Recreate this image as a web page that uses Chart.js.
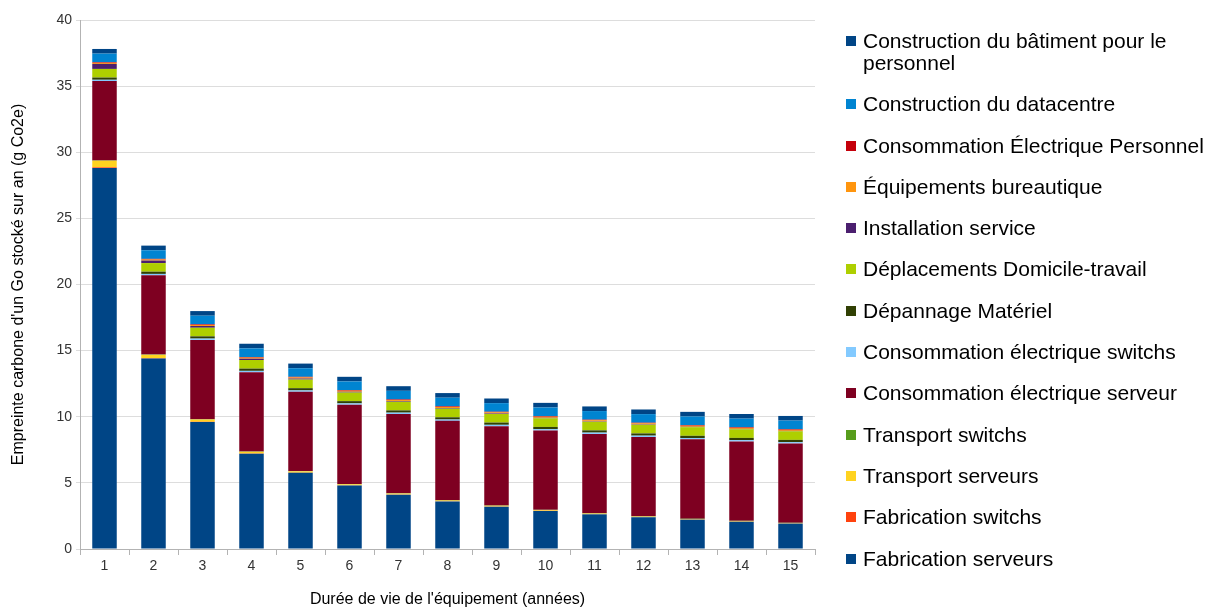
<!DOCTYPE html>
<html>
<head>
<meta charset="utf-8">
<style>
  html, body { margin: 0; padding: 0; background: #fff; }
  #wrap { position: relative; width: 1206px; height: 609px; font-family: "Liberation Sans", Arial, sans-serif; }
  #legend { position: absolute; left: 846px; top: 30px; width: 360px; font-size: 21px; line-height: 22px; color: #000; }
  .item { display: flex; align-items: flex-start; margin-bottom: 19.3px; }
  .box { width: 10px; height: 10px; margin-top: 6px; margin-right: 7px; flex: none; }
</style>
</head>
<body>
<div id="wrap">
  <canvas id="chart" width="1206" height="609"></canvas>
  <div id="legend"></div>
</div>

<script src="https://cdn.jsdelivr.net/npm/chart.js@4"></script>
<script>
// Données
const years = ['1', '2', '3', '4', '5', '6', '7', '8', '9', '10', '11', '12', '13', '14', '15'];

const fabServeurs      = [28.8, 14.4, 9.6, 7.2, 5.76, 4.8, 4.11, 3.6, 3.2, 2.88, 2.62, 2.4, 2.22, 2.06, 1.92];
const fabSwitchs       = [0.06, 0.03, 0.02, 0.02, 0.01, 0.01, 0.01, 0.01, 0.01, 0.01, 0.01, 0.01, 0.01, 0.01, 0.01];
const transServeurs    = [0.5, 0.25, 0.17, 0.13, 0.1, 0.08, 0.07, 0.06, 0.06, 0.05, 0.05, 0.04, 0.04, 0.04, 0.03];
const transSwitchs     = [0.02, 0.02, 0.02, 0.02, 0.02, 0.02, 0.02, 0.02, 0.02, 0.02, 0.02, 0.02, 0.02, 0.02, 0.02];
const consoServeur     = [6.0, 6.0, 6.0, 6.0, 6.0, 6.0, 6.0, 6.0, 6.0, 6.0, 6.0, 6.0, 6.0, 6.0, 6.0];
const consoSwitchs     = [0.1, 0.1, 0.1, 0.1, 0.1, 0.1, 0.1, 0.1, 0.1, 0.1, 0.1, 0.1, 0.1, 0.1, 0.1];
const depannage        = [0.17, 0.17, 0.17, 0.17, 0.17, 0.17, 0.17, 0.17, 0.17, 0.17, 0.17, 0.17, 0.17, 0.17, 0.17];
const deplacements     = [0.65, 0.65, 0.65, 0.65, 0.65, 0.65, 0.65, 0.65, 0.65, 0.65, 0.65, 0.65, 0.65, 0.65, 0.65];
const installation     = [0.38, 0.19, 0.13, 0.1, 0.08, 0.06, 0.05, 0.05, 0.04, 0.04, 0.03, 0.03, 0.03, 0.03, 0.03];
const equipBureau      = [0.08, 0.08, 0.08, 0.08, 0.08, 0.08, 0.08, 0.08, 0.08, 0.08, 0.08, 0.08, 0.08, 0.08, 0.08];
const consoPersonnel   = [0.05, 0.05, 0.05, 0.05, 0.05, 0.05, 0.05, 0.05, 0.05, 0.05, 0.05, 0.05, 0.05, 0.05, 0.05];
const constrDatacentre = [0.65, 0.65, 0.65, 0.65, 0.65, 0.65, 0.65, 0.65, 0.65, 0.65, 0.65, 0.65, 0.65, 0.65, 0.65];
const constrBatiment   = [0.35, 0.35, 0.35, 0.35, 0.35, 0.35, 0.35, 0.35, 0.35, 0.35, 0.35, 0.35, 0.35, 0.35, 0.35];

const yTicks = [0, 5, 10, 15, 20, 25, 30, 35, 40];

const series = [
    { label: 'Fabrication serveurs', data: fabServeurs, color: '#004586' },
    { label: 'Fabrication switchs', data: fabSwitchs, color: '#ff420e' },
    { label: 'Transport serveurs', data: transServeurs, color: '#ffd320' },
    { label: 'Transport switchs', data: transSwitchs, color: '#579d1c' },
    { label: 'Consommation électrique serveur', data: consoServeur, color: '#7e0021' },
    { label: 'Consommation électrique switchs', data: consoSwitchs, color: '#83caff' },
    { label: 'Dépannage Matériel', data: depannage, color: '#314004' },
    { label: 'Déplacements Domicile-travail', data: deplacements, color: '#aecf00' },
    { label: 'Installation service', data: installation, color: '#4b1f6f' },
    { label: 'Équipements bureautique', data: equipBureau, color: '#ff950e' },
    { label: 'Consommation Électrique Personnel', data: consoPersonnel, color: '#c5000b' },
    { label: 'Construction du datacentre', data: constrDatacentre, color: '#0084d1' },
    { label: 'Construction du bâtiment pour le personnel', data: constrBatiment, color: '#004586' }
];

Chart.defaults.font.family = '"Liberation Sans", Arial, sans-serif';
Chart.defaults.color = '#333';

const chart = new Chart(document.getElementById('chart'), {
    type: 'bar',
    data: {
        labels: years,
        datasets: series.map(s => ({
            label: s.label,
            data: s.data,
            backgroundColor: s.color,
            borderWidth: 0,
            barPercentage: 0.5,
            categoryPercentage: 1.0
        }))
    },
    options: {
        responsive: false,
        animation: false,
        layout: { padding: { top: 20, right: 391, bottom: 0, left: 0 } },
        plugins: {
            legend: { display: false },
            tooltip: { enabled: false }
        },
        scales: {
            x: {
                stacked: true,
                grid: { offset: true, drawOnChartArea: false, drawTicks: true, tickLength: 6, color: '#b3b3b3' },
                border: { color: '#b3b3b3' },
                ticks: { font: { size: 14 }, color: '#333', padding: 3 },
                title: { display: true, text: "Durée de vie de l'équipement (années)", font: { size: 16 }, color: '#000', padding: { top: 13, bottom: 0 } },
                afterFit: s => { s.height = 60; }
            },
            y: {
                stacked: true,
                min: 0,
                max: 40,
                afterBuildTicks: s => { s.ticks = yTicks.map(v => ({ value: v })); },
                grid: { color: '#dddddd', tickLength: 4 },
                border: { color: '#b3b3b3' },
                ticks: { font: { size: 14 }, color: '#333', padding: 4 },
                title: { display: true, text: "Empreinte carbone d'un Go stocké sur an (g Co2e)", font: { size: 16 }, color: '#000', padding: { top: 9, bottom: 0 } },
                afterFit: s => { s.width = 80; }
            }
        }
    }
});

// Légende HTML (ordre inversé comme l'original)
const legend = document.getElementById('legend');
series.slice().reverse().forEach(s => {
    const item = document.createElement('div');
    item.className = 'item';
    item.innerHTML = '<span class="box" style="background:' + s.color + '"></span><span>' + s.label + '</span>';
    legend.appendChild(item);
});
</script>
</body>
</html>
